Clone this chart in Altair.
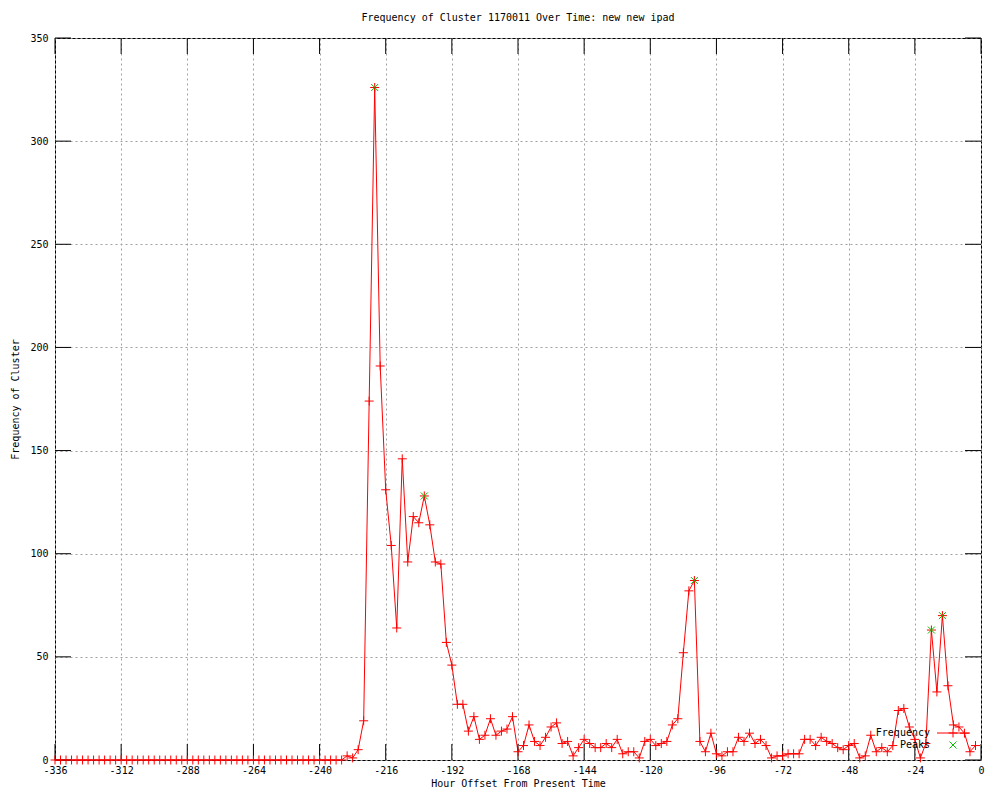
import altair as alt
import pandas as pd

# ---------------- data ----------------
hours = list(range(-336, 0, 2))
freq = [
    0, 0, 0, 0, 0, 0, 0, 0, 0, 0,
    0, 0, 0, 0, 0, 0, 0, 0, 0, 0,
    0, 0, 0, 0, 0, 0, 0, 0, 0, 0,
    0, 0, 0, 0, 0, 0, 0, 0, 0, 0,
    0, 0, 0, 0, 0, 0, 0, 0, 0, 0,
    0, 0, 0,
    2, 1, 5, 19, 174, 326, 191, 131, 104, 64,
    146, 96, 118, 115, 128, 114, 96, 95, 57, 46,
    27, 27, 14, 21, 10, 12, 20, 12, 14, 15,
    21, 4, 7, 17, 9, 7, 11, 16, 18, 8,
    9, 2, 6, 10, 8, 6, 6, 8, 6, 10,
    3, 4, 4, 1, 9, 10, 7, 8, 9, 17,
    20, 52, 82, 87, 9, 4, 13, 3, 2, 4,
    4, 11, 9, 13, 8, 10, 7, 1, 2, 2,
    3, 3, 3, 10, 10, 7, 11, 9, 8, 6,
    5, 7, 8, 1, 2, 12, 4, 6, 4, 7,
    24, 25, 16, 10, 1, 8, 63, 33, 70, 36,
    17, 16, 13, 4, 7,
]
assert len(hours) == len(freq)

peak_hours = [-220, -202, -104, -18, -14]
peak_freq = [326, 128, 87, 63, 70]

x_ticks = [-336, -312, -288, -264, -240, -216, -192, -168, -144, -120, -96, -72, -48, -24, 0]
y_ticks = [0, 50, 100, 150, 200, 250, 300, 350]

title_text = "Frequency of Cluster 1170011 Over Time: new new ipad"
x_title = "Hour Offset From Present Time"
y_title = "Frequency of Cluster"
legend_labels = ["Frequency", "Peaks"]

# ---------------- style ----------------
W, H = 926, 722
FONT = "DejaVu Sans Mono"
PLUS = "M-1,0L1,0M0,-1L0,1"
CROSS = "M-1,-1L1,1M-1,1L1,-1"
RED = "#ff0000"
GREEN = "#00c000"
TICK = 16

df = pd.DataFrame({"hour": hours, "freq": freq})
pk = pd.DataFrame({"hour": peak_hours, "freq": peak_freq})
xt = pd.DataFrame({"hour": x_ticks})
yt = pd.DataFrame({"freq": y_ticks})
one = pd.DataFrame({"a": [0]})

xs = alt.Scale(domain=[-336, 0], nice=False, zero=False)
ys = alt.Scale(domain=[0, 350], nice=False, zero=False)

xaxis = alt.Axis(values=x_ticks, title=x_title, grid=True, gridDash=[2, 3],
                 gridColor="#a0a0a0", gridWidth=1, ticks=False, domain=False,
                 labelPadding=5, titlePadding=3, labelExpr="'' + datum.value",
                 labelFlush=False, labelOverlap=False)
yaxis = alt.Axis(values=y_ticks, title=y_title, grid=True, gridDash=[2, 3],
                 gridColor="#a0a0a0", gridWidth=1, ticks=False, domain=False,
                 labelPadding=7, titlePadding=9, labelExpr="'' + datum.value",
                 labelFlush=False, labelOverlap=False)

line = alt.Chart(df).mark_line(color=RED, strokeWidth=1).encode(
    x=alt.X("hour:Q", scale=xs, axis=xaxis),
    y=alt.Y("freq:Q", scale=ys, axis=yaxis),
)
pts = alt.Chart(df).mark_point(shape=PLUS, size=81, filled=False, color=RED,
                               strokeWidth=1, opacity=1).encode(
    x=alt.X("hour:Q", scale=xs),
    y=alt.Y("freq:Q", scale=ys),
)
peaks = alt.Chart(pk).mark_point(shape=CROSS, size=49, filled=False, color=GREEN,
                                 strokeWidth=1, opacity=1).encode(
    x=alt.X("hour:Q", scale=xs),
    y=alt.Y("freq:Q", scale=ys),
)

tb = alt.Chart(xt).mark_rule(color="black", strokeWidth=1).encode(
    x=alt.X("hour:Q", scale=xs), y=alt.value(H), y2=alt.value(H - TICK))
tt = alt.Chart(xt).mark_rule(color="black", strokeWidth=1).encode(
    x=alt.X("hour:Q", scale=xs), y=alt.value(0), y2=alt.value(TICK))
tl = alt.Chart(yt).mark_rule(color="black", strokeWidth=1).encode(
    y=alt.Y("freq:Q", scale=ys), x=alt.value(0), x2=alt.value(TICK))
tr = alt.Chart(yt).mark_rule(color="black", strokeWidth=1).encode(
    y=alt.Y("freq:Q", scale=ys), x=alt.value(W), x2=alt.value(W - TICK))

title = alt.Chart(one).mark_text(font=FONT, fontSize=10, color="black",
                                 align="center", baseline="middle").encode(
    x=alt.value(W / 2), y=alt.value(-20), text=alt.value(title_text))

leg_t1 = alt.Chart(one).mark_text(font=FONT, fontSize=10, color="black",
                                  align="right", baseline="middle").encode(
    x=alt.value(875), y=alt.value(695), text=alt.value(legend_labels[0]))
leg_t2 = alt.Chart(one).mark_text(font=FONT, fontSize=10, color="black",
                                  align="right", baseline="middle").encode(
    x=alt.value(875), y=alt.value(707), text=alt.value(legend_labels[1]))
leg_line = alt.Chart(one).mark_rule(color=RED, strokeWidth=1).encode(
    x=alt.value(882), x2=alt.value(915), y=alt.value(695))
leg_plus = alt.Chart(one).mark_point(shape=PLUS, size=81, filled=False, color=RED,
                                     strokeWidth=1, opacity=1).encode(
    x=alt.value(898), y=alt.value(695))
leg_x = alt.Chart(one).mark_point(shape=CROSS, size=49, filled=False, color=GREEN,
                                  strokeWidth=1, opacity=1).encode(
    x=alt.value(898), y=alt.value(707))

chart = alt.layer(
    line, tb, tt, tl, tr, pts, peaks, title,
    leg_line, leg_plus, leg_x, leg_t1, leg_t2,
).properties(
    width=W, height=H,
    autosize=alt.AutoSizeParams(type="none"),
    padding={"left": 47, "top": 30, "right": 11, "bottom": 32},
    background="white",
).configure_view(
    stroke="black", strokeWidth=1,
).configure_axis(
    labelFont=FONT, titleFont=FONT, labelFontSize=10, titleFontSize=10,
    titleFontWeight="normal", labelColor="black", titleColor="black",
)

chart.save("out.html", embed_options={"renderer": "svg", "actions": False})
